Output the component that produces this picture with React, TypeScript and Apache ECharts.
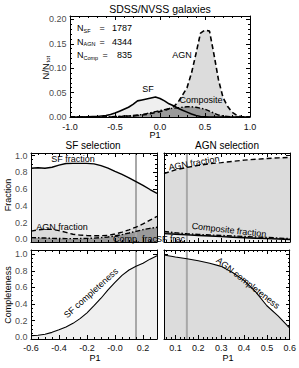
import React, { useEffect, useRef } from "react";
import * as echarts from "echarts";

const FONT = "'Liberation Sans', Arial, Helvetica, sans-serif";

// ---------- Top panel: normalised P1 histograms ----------
const p1Hist = [-1.0, -0.95, -0.9, -0.85, -0.8, -0.75, -0.7, -0.65, -0.6, -0.55, -0.5, -0.45, -0.4, -0.35, -0.3, -0.25, -0.2, -0.15, -0.1, -0.05, 0.0, 0.05, 0.1, 0.15, 0.2, 0.25, 0.3, 0.35, 0.4, 0.45, 0.5, 0.55, 0.6, 0.65, 0.7, 0.75, 0.8, 0.85, 0.9, 0.95, 1.0];
const sfHist = [0, 0, 0, 0, 0.0005, 0.001, 0.001, 0.002, 0.003, 0.005, 0.008, 0.012, 0.016, 0.02, 0.026, 0.033, 0.035, 0.037, 0.039, 0.041, 0.038, 0.033, 0.027, 0.023, 0.018, 0.014, 0.01, 0.006, 0.003, 0.001, 0.0005, 0, 0, 0, 0, 0, 0, 0, 0, 0, 0];
const agnHist = [0, 0, 0, 0, 0, 0, 0, 0, 0, 0, 0.0005, 0.001, 0.001, 0.002, 0.002, 0.003, 0.004, 0.005, 0.007, 0.009, 0.011, 0.013, 0.017, 0.021, 0.03, 0.045, 0.06, 0.09, 0.13, 0.172, 0.178, 0.176, 0.128, 0.076, 0.04, 0.022, 0.01, 0.004, 0.001, 0, 0];
const compHist = [0, 0, 0, 0, 0, 0, 0, 0, 0, 0.0005, 0.001, 0.001, 0.002, 0.002, 0.003, 0.004, 0.005, 0.007, 0.009, 0.011, 0.013, 0.015, 0.017, 0.018, 0.019, 0.02, 0.021, 0.021, 0.02, 0.018, 0.016, 0.012, 0.008, 0.004, 0.002, 0.001, 0, 0, 0, 0, 0];
const histTicksX = [-1.0, -0.5, 0.0, 0.5, 1.0];
const histTicksY = [0.0, 0.05, 0.1, 0.15, 0.2];
const histTickLabelsY = ["0.00", "0.05", "0.10", "0.15", "0.20"];
const countLabels = [
  { sub: "SF", value: "1787" },
  { sub: "AGN", value: "4344" },
  { sub: "Comp", value: "835" },
];

// ---------- SF selection (left column) ----------
const p1SfSel = [-0.6, -0.55, -0.5, -0.45, -0.4, -0.35, -0.3, -0.25, -0.2, -0.15, -0.1, -0.05, 0.0, 0.05, 0.1, 0.15, 0.2, 0.25, 0.3];
const sfSelSF = [0.848, 0.855, 0.848, 0.86, 0.885, 0.905, 0.907, 0.907, 0.906, 0.9, 0.88, 0.85, 0.81, 0.775, 0.735, 0.69, 0.645, 0.595, 0.55];
const sfSelAGN = [0.1, 0.115, 0.123, 0.12, 0.105, 0.085, 0.062, 0.052, 0.047, 0.044, 0.045, 0.05, 0.065, 0.087, 0.115, 0.148, 0.185, 0.23, 0.275];
const sfSelComp = [0.022, 0.02, 0.017, 0.014, 0.012, 0.01, 0.01, 0.011, 0.013, 0.016, 0.022, 0.03, 0.042, 0.058, 0.077, 0.097, 0.117, 0.133, 0.145];
const sfCompleteness = [0.02, 0.025, 0.037, 0.06, 0.09, 0.125, 0.168, 0.225, 0.295, 0.38, 0.47, 0.57, 0.66, 0.745, 0.81, 0.855, 0.89, 0.94, 0.98];
const leftTicksX = [-0.6, -0.4, -0.2, 0.0, 0.2];
const leftTickLabels = ["-0.6", "-0.4", "-0.2", "-0.0", "0.2"];

// ---------- AGN selection (right column) ----------
const p1AgnSel = [0.05, 0.1, 0.15, 0.2, 0.25, 0.3, 0.35, 0.4, 0.45, 0.5, 0.55, 0.6];
const agnSelAGN = [0.785, 0.83, 0.858, 0.882, 0.902, 0.915, 0.93, 0.945, 0.955, 0.965, 0.972, 0.978];
const agnSelComp = [0.095, 0.08, 0.068, 0.06, 0.054, 0.048, 0.042, 0.036, 0.03, 0.024, 0.017, 0.01];
const agnSelSF = [0.07, 0.062, 0.055, 0.048, 0.041, 0.034, 0.027, 0.021, 0.015, 0.01, 0.005, 0.0];
const agnCompleteness = [0.99, 0.965, 0.945, 0.92, 0.89, 0.853, 0.78, 0.685, 0.55, 0.38, 0.255, 0.11];
const rightTicksX = [0.1, 0.2, 0.3, 0.4, 0.5, 0.6];

const fracTicksY = [0.0, 0.2, 0.4, 0.6, 0.8, 1.0];
const fracTickLabelsY = ["0.0", "0.2", "0.4", "0.6", "0.8", "1.0"];
const selectionCut = 0.15;

// ---------- helpers ----------
const range = (a: number, b: number, s: number) => {
  const out: number[] = [];
  for (let v = a; v <= b + 1e-9; v += s) out.push(Math.round(v * 10000) / 10000);
  return out;
};

const C_SF = "#efefef";
const C_AGN = "#dcdcdc";
const C_COMP = "#9a9a9a";
const DASH = [5, 3];
const DASHDOT = [5, 2, 1.5, 2];

type Panel = {
  left: number;
  top: number;
  width: number;
  height: number;
  xMin: number;
  xMax: number;
  xMajor: number[];
  xMinor: number[];
  xFmt?: (v: number) => string;
  xMargin?: number;
  yMin: number;
  yMax: number;
  yTickMax: number;
  yInterval: number;
  yMinorSplit: number;
  yTicks: number[];
  yLabels?: string[];
};

const txt = (text: string, x: number, y: number, size = 9, align = "center", rot = 0, color = "#000") => ({
  type: "text",
  x,
  y,
  rotation: (rot * Math.PI) / 180,
  z: 50,
  silent: true,
  style: {
    text,
    x: 0,
    y: 0,
    fill: color,
    font: `${size}px ${FONT}`,
    textAlign: align,
    verticalAlign: "middle",
  },
});

function buildOption() {
  const grids: any[] = [];
  const xAxes: any[] = [];
  const yAxes: any[] = [];
  const series: any[] = [];
  const black = { color: "#000", width: 1 };

  function addPanel(p: Panel) {
    const g = grids.length;
    grids.push({ left: p.left, top: p.top, width: p.width, height: p.height });
    const xi = xAxes.length;
    const xBase = (pos: string) => ({ type: "value", gridIndex: g, min: p.xMin, max: p.xMax, position: pos, splitLine: { show: false }, z: 6 });
    const maj = { show: true, inside: true, length: 4, customValues: p.xMajor, lineStyle: black };
    const mino = { show: true, inside: true, length: 2, customValues: p.xMinor, lineStyle: black };
    const line = { show: true, onZero: false, lineStyle: black };
    xAxes.push({
      ...xBase("bottom"),
      axisLine: line,
      axisTick: maj,
      axisLabel: p.xFmt
        ? { show: true, fontSize: 9, fontFamily: FONT, color: "#111", customValues: p.xMajor, formatter: p.xFmt, margin: p.xMargin ?? 4 }
        : { show: false },
    });
    xAxes.push({ ...xBase("bottom"), axisLine: { show: false, onZero: false }, axisTick: mino, axisLabel: { show: false } });
    xAxes.push({ ...xBase("top"), axisLine: line, axisTick: maj, axisLabel: { show: false } });
    xAxes.push({ ...xBase("top"), axisLine: { show: false, onZero: false }, axisTick: mino, axisLabel: { show: false } });
    const yi = yAxes.length;
    const yBase = (pos: string) => ({ type: "value", gridIndex: g, min: p.yMin, max: p.yMax, position: pos, splitLine: { show: false }, z: 6 });
    yAxes.push({ ...yBase("left"), axisLine: line, axisTick: { show: false }, axisLabel: { show: false } });
    yAxes.push({ ...yBase("right"), axisLine: line, axisTick: { show: false }, axisLabel: { show: false } });

    // tick grid spanning exactly 0 .. yTickMax so the ticks land on round values
    const span = p.yMax - p.yMin;
    const tg = grids.length;
    grids.push({
      left: p.left,
      width: p.width,
      top: p.top + ((p.yMax - p.yTickMax) / span) * p.height,
      height: (p.yTickMax / span) * p.height,
    });
    const txi = xAxes.length;
    xAxes.push({ type: "value", gridIndex: tg, min: 0, max: 1, show: false });
    const tBase = () => ({
      type: "value",
      gridIndex: tg,
      min: 0,
      max: p.yTickMax,
      interval: p.yInterval,
      splitLine: { show: false },
      axisLine: { show: false },
      axisLabel: { show: false },
      axisTick: { show: true, inside: true, length: 4, lineStyle: black },
      minorTick: { show: true, splitNumber: p.yMinorSplit, length: 2, lineStyle: black },
    });
    const tyl = yAxes.length;
    yAxes.push({ ...tBase(), position: "left" });
    yAxes.push({ ...tBase(), position: "right" });
    series.push({ type: "line", xAxisIndex: txi, yAxisIndex: tyl, data: [], symbol: "none", silent: true });
    series.push({ type: "line", xAxisIndex: txi, yAxisIndex: tyl + 1, data: [], symbol: "none", silent: true });

    // y tick labels as labels of invisible points at the left edge of the panel
    if (p.yLabels) {
      const labels = p.yLabels;
      series.push({
        type: "scatter",
        xAxisIndex: xi,
        yAxisIndex: yi,
        data: p.yTicks.map((v) => [p.xMin, v]),
        symbolSize: 1,
        clip: false,
        silent: true,
        z: 20,
        itemStyle: { color: "rgba(0,0,0,0)" },
        label: {
          show: true,
          position: "left",
          distance: 3,
          formatter: (pr: any) => labels[pr.dataIndex],
          fontSize: 9,
          fontFamily: FONT,
          color: "#111",
        },
        labelLayout: { hideOverlap: false },
      });
    }
    return { xi, yi };
  }

  const fmtLeft = (v: number) => {
    const i = leftTicksX.findIndex((t) => Math.abs(t - v) < 1e-6);
    return i >= 0 ? leftTickLabels[i] : "";
  };
  const f1 = (v: number) => v.toFixed(1);

  const P0 = addPanel({ left: 70, top: 16, width: 180, height: 101, xMin: -1, xMax: 1, xMajor: histTicksX, xMinor: range(-1, 1, 0.1), xFmt: f1, xMargin: 5, yMin: 0, yMax: 0.207, yTickMax: 0.2, yInterval: 0.05, yMinorSplit: 5, yTicks: histTicksY, yLabels: histTickLabelsY });
  const P1 = addPanel({ left: 31, top: 153, width: 126, height: 89, xMin: -0.6, xMax: 0.3, xMajor: leftTicksX, xMinor: range(-0.6, 0.3, 0.05), yMin: -0.03, yMax: 1.03, yTickMax: 1, yInterval: 0.2, yMinorSplit: 4, yTicks: fracTicksY, yLabels: fracTickLabelsY });
  const P2 = addPanel({ left: 164, top: 153, width: 126, height: 89, xMin: 0.05, xMax: 0.6, xMajor: rightTicksX, xMinor: range(0.06, 0.6, 0.02), yMin: -0.03, yMax: 1.03, yTickMax: 1, yInterval: 0.2, yMinorSplit: 4, yTicks: fracTicksY });
  const P3 = addPanel({ left: 31, top: 250, width: 126, height: 89, xMin: -0.6, xMax: 0.3, xMajor: leftTicksX, xMinor: range(-0.6, 0.3, 0.05), xFmt: fmtLeft, yMin: -0.02, yMax: 1.05, yTickMax: 1, yInterval: 0.2, yMinorSplit: 4, yTicks: fracTicksY, yLabels: fracTickLabelsY });
  const P4 = addPanel({ left: 164, top: 250, width: 126, height: 89, xMin: 0.05, xMax: 0.6, xMajor: rightTicksX, xMinor: range(0.06, 0.6, 0.02), xFmt: f1, yMin: -0.02, yMax: 1.05, yTickMax: 1, yInterval: 0.2, yMinorSplit: 4, yTicks: fracTicksY });

  const pairs = (xs: number[], ys: number[]) => xs.map((x, i) => [x, ys[i]]);
  const fill = (P: any, xs: number[], ys: number[], color: string) => ({
    type: "line",
    xAxisIndex: P.xi,
    yAxisIndex: P.yi,
    data: pairs(xs, ys),
    symbol: "none",
    silent: true,
    z: 1,
    lineStyle: { width: 0, opacity: 0 },
    areaStyle: { color, opacity: 1, origin: "start" },
  });
  const curve = (P: any, xs: number[], ys: number[], type: any, width = 1.4) => ({
    type: "line",
    xAxisIndex: P.xi,
    yAxisIndex: P.yi,
    data: pairs(xs, ys),
    symbol: "none",
    silent: true,
    z: 3,
    lineStyle: { color: "#000", width, type },
  });
  const vline = (P: any, lo: number, hi: number) => ({
    type: "line",
    xAxisIndex: P.xi,
    yAxisIndex: P.yi,
    data: [
      [selectionCut, lo],
      [selectionCut, hi],
    ],
    symbol: "none",
    silent: true,
    z: 2,
    lineStyle: { color: "#a8a8a8", width: 2 },
  });

  series.push(
    fill(P0, p1Hist, agnHist, C_AGN),
    fill(P0, p1Hist, sfHist, C_SF),
    fill(P0, p1Hist, compHist, C_COMP),
    curve(P0, p1Hist, agnHist, DASH, 1.6),
    curve(P0, p1Hist, sfHist, "solid", 1.6),
    curve(P0, p1Hist, compHist, DASHDOT, 1.4),
    fill(P1, p1SfSel, sfSelSF, C_SF),
    fill(P1, p1SfSel, sfSelAGN, C_AGN),
    fill(P1, p1SfSel, sfSelComp, C_COMP),
    vline(P1, -0.03, 1.03),
    curve(P1, p1SfSel, sfSelSF, "solid"),
    curve(P1, p1SfSel, sfSelAGN, DASH),
    curve(P1, p1SfSel, sfSelComp, DASHDOT),
    fill(P2, p1AgnSel, agnSelAGN, C_AGN),
    fill(P2, p1AgnSel, agnSelComp, C_COMP),
    fill(P2, p1AgnSel, agnSelSF, C_SF),
    vline(P2, -0.03, 1.03),
    curve(P2, p1AgnSel, agnSelAGN, DASH),
    curve(P2, p1AgnSel, agnSelComp, DASHDOT),
    curve(P2, p1AgnSel, agnSelSF, "solid"),
    fill(P3, p1SfSel, sfCompleteness, C_SF),
    vline(P3, -0.02, 1.05),
    curve(P3, p1SfSel, sfCompleteness, "solid", 1.1),
    fill(P4, p1AgnSel, agnCompleteness, C_AGN),
    vline(P4, -0.02, 1.05),
    curve(P4, p1AgnSel, agnCompleteness, "solid", 1.1)
  );

  const graphic: any[] = [
    txt("SDSS/NVSS galaxies", 160, 9, 10.5),
    txt("P1", 155, 135, 9),
    txt("SF", 148, 89, 9),
    txt("AGN", 182, 55, 9),
    txt("Composite", 201, 100, 9),
    txt("SF selection", 93, 145, 10),
    txt("AGN selection", 227, 145, 10),
    txt("SF fraction", 73, 159, 9),
    txt("AGN fraction", 62, 227, 9),
    txt("Comp. frac", 157, 238.5, 9, "right"),
    txt("SF frac", 156, 238.5, 9, "left"),
    txt("AGN fraction", 194, 163, 9, "center", 10),
    txt("Composite fraction", 229, 230, 9, "center", -6.5),
    txt("SF completeness", 91, 293, 9, "center", 42),
    txt("AGN completeness", 248, 283, 9, "center", -38),
    txt("Fraction", 8, 195, 9, "center", 90),
    txt("Completeness", 8, 295, 9, "center", 90),
    txt("P1", 95, 358, 9),
    txt("P1", 228, 358, 9),
    {
      type: "group",
      x: 45,
      y: 66,
      rotation: Math.PI / 2,
      children: [txt("N/N", 3, 0, 9.5, "right"), txt("tot", 3.5, 2.5, 6, "left")],
    },
  ];
  countLabels.forEach((c, i) => {
    const y = 28 + i * 13.5;
    graphic.push(txt("N", 77, y, 9, "left"));
    graphic.push(txt(c.sub, 83.5, y + 2.5, 5.5, "left"));
    graphic.push(txt("=", i === 2 ? 105 : 102, y, 9, "center"));
    graphic.push(txt(c.value, 132, y, 9, "right"));
  });

  return {
    animation: false,
    backgroundColor: "#fff",
    grid: grids,
    xAxis: xAxes,
    yAxis: yAxes,
    series,
    graphic,
  };
}

export default function App() {
  const ref = useRef<HTMLDivElement>(null);
  useEffect(() => {
    if (!ref.current) return;
    const chart = echarts.init(ref.current, undefined, { renderer: "svg", width: 299, height: 368 });
    chart.setOption(buildOption() as any);
    return () => chart.dispose();
  }, []);
  return <div ref={ref} style={{ position: "absolute", left: 0, top: 0, width: 299, height: 368 }} />;
}
